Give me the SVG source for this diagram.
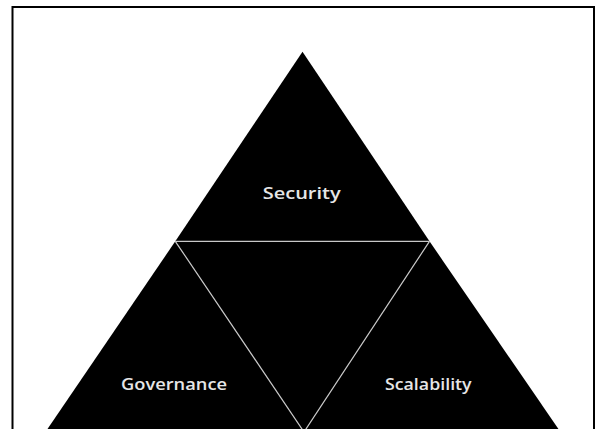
<svg xmlns="http://www.w3.org/2000/svg" width="595" height="429" viewBox="0 0 595 429">
  <style>
    .tri { fill: #000000; stroke: none; }
    .lbl { font-family: "Open Sans", "Noto Sans", "Liberation Sans", sans-serif; font-size: 16px; font-weight: 600; fill: #e6e6e6; text-anchor: middle; }
    .sep { stroke: #c8c8c8; stroke-width: 1.2; fill: none; }
    .frame { stroke: #000000; stroke-width: 2; fill: none; }
  </style>
  <rect width="595" height="429" fill="#ffffff"/>
  <polyline class="frame" points="12.5,440 12.5,7 594,7 594,440"/>
  <g id="security">
    <polygon class="tri" points="302.5,51.7 175.3,241.3 429.5,241.3"/>
    <text class="lbl" x="301.7" y="199" textLength="78" lengthAdjust="spacingAndGlyphs">Security</text>
  </g>
  <g id="center">
    <polygon class="tri" points="175.3,241.3 429.5,241.3 304,432"/>
  </g>
  <g id="governance">
    <polygon class="tri" points="175.3,241.3 304,432 306,440 40,440"/>
    <text class="lbl" x="174" y="390" textLength="106" lengthAdjust="spacingAndGlyphs">Governance</text>
  </g>
  <g id="scalability">
    <polygon class="tri" points="429.5,241.3 304,432 302,440 566,440"/>
    <text class="lbl" x="428.3" y="390" textLength="86.7" lengthAdjust="spacingAndGlyphs">Scalability</text>
  </g>
  <g id="connectors">
    <line class="sep" x1="175.3" y1="241.3" x2="429.5" y2="241.3"/>
    <line class="sep" x1="175.3" y1="241.3" x2="304" y2="432"/>
    <line class="sep" x1="429.5" y1="241.3" x2="304" y2="432"/>
  </g>
</svg>
